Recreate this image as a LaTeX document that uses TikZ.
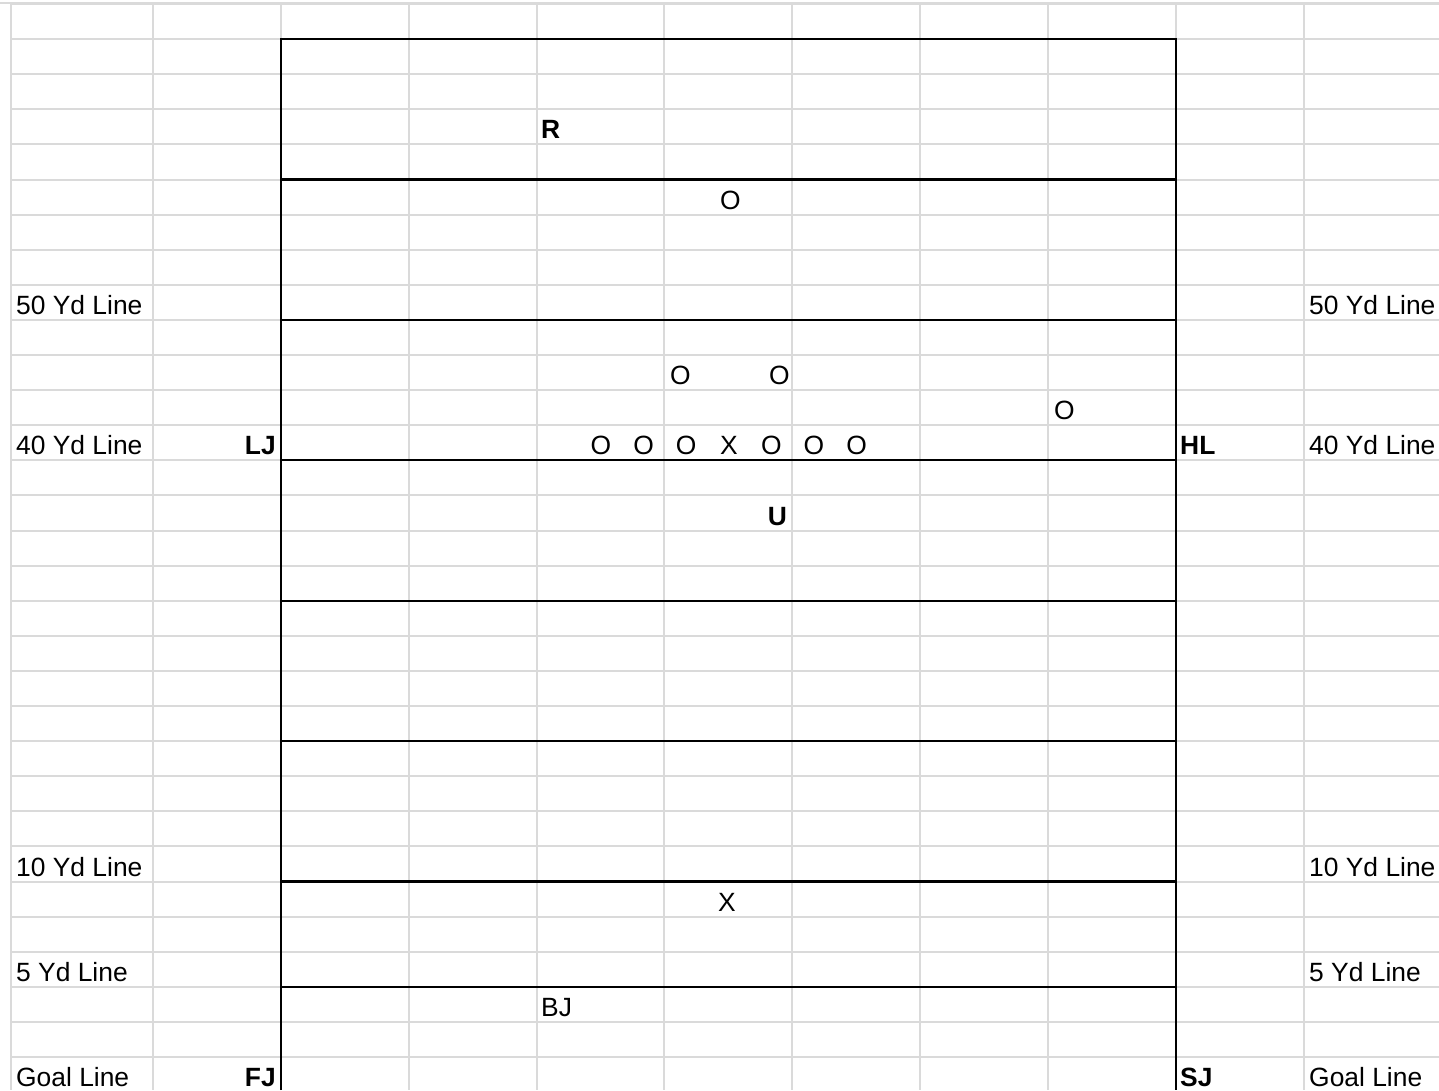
\documentclass[tikz,border=0pt]{standalone}
\usepackage{fontspec}
\setmainfont{Liberation Sans}
\usepackage{xcolor}
\definecolor{gridgray}{HTML}{DADADA}

\begin{document}
\begin{tikzpicture}[x=1pt,y=-1pt, every node/.style={font=\fontsize{26.4}{30}\selectfont,inner sep=0pt}, cellline/.style={draw=gridgray,line width=2pt}, fieldline/.style={draw=black,line width=2.3pt}, side/.style={anchor=base west}, offic/.style={font=\fontsize{26.4}{30}\selectfont\bfseries}, player/.style={anchor=base}]
\useasboundingbox (0,0) rectangle (1439,1090);
\fill[white] (0,0) rectangle (1439,1090);
% sheet cells
\draw[cellline] (0,2.5) -- (1439,2.5);
\foreach \r in {0,...,30} \draw[cellline] (11,4+35.1*\r) -- (1439,4+35.1*\r);
\foreach \c in {11,153,281,409,537,664,792,920,1048,1176,1304} \draw[cellline] (\c,4) -- (\c,1090);
% field and yard lines
\draw[fieldline] (281,1090) -- (281,39.1) -- (1176,39.1) -- (1176,1090);
\foreach \r in {5,9,13,17,21,25,28} \draw[fieldline] (281,4+35.1*\r) -- (1176,4+35.1*\r);
% yard labels
\foreach \y/\t [count=\i] in {314.4/50 Yd Line, 454.8/40 Yd Line, 876/10 Yd Line, 981.3/5 Yd Line, 1086.6/Goal Line} {
  \node[side] (left\i) at (16,\y) {\t};
  \node[side] (right\i) at (1309,\y) {\t};
}
% officials
\node[offic,anchor=base west] (ref) at (541,138.9) {R};
\node[offic,anchor=base] (ump) at (777.5,525) {U};
\node[offic,anchor=base east] (lj) at (276,454.8) {LJ};
\node[offic,anchor=base west] (hl) at (1180,454.8) {HL};
\node[offic,anchor=base east] (fj) at (276,1086.6) {FJ};
\node[offic,anchor=base west] (sj) at (1180,1086.6) {SJ};
\node[side] (bj) at (541,1016.4) {BJ};
% players
\node[player] (deep) at (730.5,209.1) {O};
\node[player] (backl) at (680.5,384.6) {O};
\node[player] (backr) at (779.5,384.6) {O};
\node[player] (wide) at (1064.5,419.7) {O};
\foreach \c [count=\i] in {O,O,O,X,O,O,O} \node[player] (line\i) at (601+42.6*\i-42.6,454.8) {\c};
\node[player] (kick) at (727,911.1) {X};
\end{tikzpicture}
\end{document}
